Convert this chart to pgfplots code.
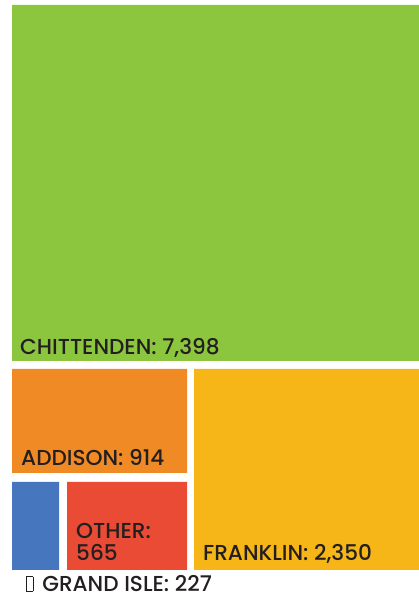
\documentclass[border=0pt]{standalone}
\usepackage{pgfplots}
\pgfplotsset{compat=1.18}
\usepackage{fontspec}
\setmainfont{Poppins}[UprightFont=* Medium]
\definecolor{cgreen}{HTML}{8CC63F}
\definecolor{corange}{HTML}{F08A24}
\definecolor{cyellow}{HTML}{F7B618}
\definecolor{cblue}{HTML}{4677BE}
\definecolor{cred}{HTML}{E94B35}
\definecolor{ctext}{HTML}{231F20}
\newcommand{\tofu}{{\setlength\fboxsep{0pt}\setlength\fboxrule{0.8bp}\fbox{\rule{0pt}{14bp}\hspace{5.5bp}}}}
\begin{document}
\begin{tikzpicture}
\begin{axis}[
  axis line style={draw=none}, ticks=none,
  scale only axis,
  width=419bp, height=596bp,
  xmin=0, xmax=419, ymin=0, ymax=596,
  clip=false,
]
% treemap cells: values Chittenden 7398, Franklin 2350, Addison 914, Other 565, Grand Isle 227
\addplot[fill=cgreen, draw=none] coordinates {(12,235) (419,235) (419,591) (12,591) (12,235)};
\addplot[fill=corange, draw=none] coordinates {(12,123) (187,123) (187,227) (12,227) (12,123)};
\addplot[fill=cyellow, draw=none] coordinates {(194,26) (419,26) (419,227) (194,227) (194,26)};
\addplot[fill=cblue, draw=none] coordinates {(12,26) (59,26) (59,114) (12,114) (12,26)};
\addplot[fill=cred, draw=none] coordinates {(67,26) (187,26) (187,114) (67,114) (67,26)};
\begin{scope}[every node/.style={anchor=base west, inner sep=0pt, text=ctext, font=\fontsize{21.7}{23}\selectfont}]
\node at (axis cs:20,241) {CHITTENDEN: 7,398};
\node at (axis cs:21,130) {ADDISON: 914};
\node at (axis cs:76,57) {OTHER:};
\node at (axis cs:76,35) {565};
\node at (axis cs:203,35) {FRANKLIN: 2,350};
\node at (axis cs:26,5) {\textcolor{ctext}{\tofu}\hspace{9bp}GRAND ISLE: 227};
\end{scope}
\end{axis}
\end{tikzpicture}
\end{document}
